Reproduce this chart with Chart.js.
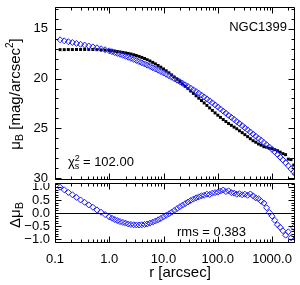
<!DOCTYPE html>
<html>
<head>
<meta charset="utf-8">
<script src="https://cdn.jsdelivr.net/npm/chart.js@4"></script>
<style>
  html, body { margin: 0; padding: 0; background: #fff; }
  #wrap { position: relative; width: 300px; height: 285px; }
  #wrap canvas { position: absolute; left: 0; }
  #profileChart { top: 0; }
  #residChart { top: 183px; }
</style>
</head>
<body>
<div id="wrap">
  <canvas id="profileChart" width="300" height="183"></canvas>
  <canvas id="residChart" width="300" height="102"></canvas>
</div>
<script>
/* =========================
   DATA
========================= */
const radius = [
  0.124, 0.148, 0.176, 0.209, 0.249, 0.296, 0.352, 0.419, 0.499, 0.593, 0.706, 0.84, 1.0,
  1.12, 1.26, 1.41, 1.58, 1.78, 2.0, 2.24, 2.51, 2.82, 3.16, 3.55, 3.98, 4.47, 5.01, 5.62, 6.31, 7.08, 7.94, 8.91, 10.0,
  11.2, 12.6, 14.1, 15.8, 17.8, 20, 22.4, 25.1, 28.2, 31.6, 35.5, 39.8, 44.7, 50.1, 56.2, 63.1, 70.8, 79.4, 89.1, 100,
  112, 126, 141, 158, 178, 200, 224, 251, 282, 316, 355, 398, 447, 501, 562, 631, 708, 794, 891, 1000,
  1122, 1259, 1413, 1585, 1778, 1995, 2239, 2512, 2700
];

// model profile (blue diamonds)
const muModel = [
  16.10, 16.20, 16.29, 16.37, 16.46, 16.55, 16.63, 16.72, 16.81, 16.90, 17.00, 17.10, 17.21,
  17.29, 17.38, 17.47, 17.56, 17.66, 17.76, 17.86, 17.96, 18.07, 18.18, 18.29, 18.41, 18.53, 18.65, 18.77, 18.90, 19.03, 19.16, 19.29, 19.43,
  19.57, 19.71, 19.86, 20.01, 20.16, 20.31, 20.47, 20.63, 20.79, 20.96, 21.13, 21.30, 21.48, 21.66, 21.85, 22.04, 22.24, 22.44, 22.64, 22.85,
  23.06, 23.27, 23.48, 23.69, 23.90, 24.11, 24.32, 24.53, 24.74, 24.95, 25.16, 25.37, 25.58, 25.79, 26.00, 26.21, 26.43, 26.65, 26.88, 27.12,
  27.37, 27.63, 27.90, 28.18, 28.47, 28.77, 29.08, 29.40, 29.60
];

// observed profile (black squares)
const muObs = [
  17.09, 17.09, 17.08, 17.08, 17.07, 17.07, 17.07, 17.07, 17.08, 17.09, 17.11, 17.14, 17.17,
  17.20, 17.24, 17.28, 17.32, 17.37, 17.42, 17.47, 17.53, 17.60, 17.68, 17.77, 17.87, 17.98, 18.10, 18.23, 18.37, 18.52, 18.68, 18.85, 19.03,
  19.22, 19.42, 19.63, 19.85, 20.07, 20.30, 20.53, 20.77, 21.01, 21.25, 21.49, 21.73, 21.97, 22.21, 22.45, 22.70, 22.95, 23.20, 23.45, 23.68,
  23.90, 24.12, 24.32, 24.52, 24.70, 24.88, 25.05, 25.25, 25.44, 25.64, 25.84, 26.05, 26.25, 26.40, 26.58, 26.70, 26.85, 26.90, 27.00, 27.05,
  27.15, 27.25, 27.40, 27.55, 27.65, 28.10, 28.15, 28.70, 28.65
];

// residuals (blue diamonds, lower panel)
const deltaMu = [
  0.99, 0.89, 0.79, 0.70, 0.60, 0.50, 0.41, 0.31, 0.22, 0.12, 0.03, -0.06, -0.15,
  -0.20, -0.25, -0.29, -0.33, -0.36, -0.39, -0.42, -0.44, -0.45, -0.46, -0.46, -0.45, -0.44, -0.42, -0.39, -0.35, -0.31, -0.26, -0.21, -0.15,
  -0.09, -0.03, 0.03, 0.10, 0.17, 0.24, 0.30, 0.36, 0.42, 0.48, 0.53, 0.58, 0.62, 0.66, 0.68, 0.72, 0.71, 0.76, 0.78, 0.80,
  0.84, 0.88, 0.82, 0.85, 0.78, 0.76, 0.72, 0.74, 0.70, 0.72, 0.68, 0.73, 0.66, 0.58, 0.55, 0.45, 0.38, 0.20, 0.02, -0.12,
  -0.28, -0.45, -0.55, -0.68, -0.85, -0.72, -0.95, -0.55, -0.98
];

const xTicks = [0.1, 1, 10, 100, 1000];
const yTicksTop = [15, 20, 25, 30];
const yTicksBottom = [-1.0, -0.5, 0.0, 0.5, 1.0];

const BLUE = "rgb(25,25,255)";
const FONT = "'Liberation Sans', Arial, sans-serif";

Chart.defaults.font.family = FONT;
Chart.defaults.font.size = 13;
Chart.defaults.color = "#000";

/* =========================
   HELPERS
========================= */
function toPoints(ys) {
  return radius.map((r, i) => ({ x: r, y: ys[i] }));
}

// no label overflow padding, fixed box size
function fixBox(size) {
  return function (s) {
    if (s.isHorizontal()) s.height = size; else s.width = size;
    s.paddingTop = 0; s.paddingBottom = 0;
    s.paddingLeft = 0; s.paddingRight = 0;
  };
}

// place the canvas so its plot area starts where the reference has it
function alignTop(chart, wantTop) {
  const off = chart.chartArea.top;
  chart.canvas.style.top = (wantTop - off) + "px";
}

// draw text pieces with sub/superscripts; rotated text is centred on (x, y)
function drawRich(ctx, parts, x, y, rotate) {
  ctx.save();
  ctx.translate(x, y);
  if (rotate) ctx.rotate(-Math.PI / 2);
  let total = 0;
  parts.forEach(p => {
    ctx.font = `${p.size}px ${FONT}`;
    p.w = p.noAdvance ? 0 : ctx.measureText(p.t).width;
    total += p.w;
  });
  let cx = rotate ? -total / 2 : 0;
  ctx.fillStyle = "#000";
  ctx.textBaseline = "alphabetic";
  ctx.textAlign = "left";
  parts.forEach(p => {
    ctx.font = `${p.size}px ${FONT}`;
    ctx.fillText(p.t, cx, p.dy || 0);
    cx += p.w;
  });
  ctx.restore();
}

// frame + inward ticks on all four sides (IDL style)
function framePlugin(yMajor, yMinorStep, yMinorFrom, yMinorTo) {
  return {
    id: "frame",
    afterDraw(chart) {
      const { ctx, chartArea: a, scales } = chart;
      const x = scales.x, y = scales.y;
      const L = Math.round(a.left) + 0.5, R = Math.round(a.right) - 0.5;
      const T = Math.round(a.top) + 0.5, B = Math.round(a.bottom) - 0.5;
      ctx.save();
      ctx.strokeStyle = "#000";
      ctx.lineWidth = 1;
      ctx.beginPath();
      ctx.rect(L, T, R - L, B - T);

      // x ticks (log)
      xTicks.forEach(d => {
        for (let m = 1; m <= 9; m++) {
          const v = m * d;
          if (v < x.min || v > x.max) continue;
          const px = Math.round(x.getPixelForValue(v)) + 0.5;
          const len = m === 1 ? 6 : 3;
          ctx.moveTo(px, T); ctx.lineTo(px, T + len);
          ctx.moveTo(px, B); ctx.lineTo(px, B - len);
        }
      });

      // y minor ticks
      for (let v = yMinorFrom; v <= yMinorTo + 1e-6; v += yMinorStep) {
        const py = Math.round(y.getPixelForValue(v)) + 0.5;
        if (py < T || py > B) continue;
        ctx.moveTo(L, py); ctx.lineTo(L + 3, py);
        ctx.moveTo(R, py); ctx.lineTo(R - 3, py);
      }
      // y major ticks
      yMajor.forEach(v => {
        const py = Math.round(y.getPixelForValue(v)) + 0.5;
        ctx.moveTo(L, py); ctx.lineTo(L + 6, py);
        ctx.moveTo(R, py); ctx.lineTo(R - 6, py);
      });
      ctx.stroke();
      ctx.restore();
    }
  };
}

/* =========================
   TOP PANEL: SURFACE BRIGHTNESS
========================= */
const profile = new Chart(document.getElementById("profileChart"), {
  type: "scatter",
  data: {
    datasets: [
      {
        label: "model",
        data: toPoints(muModel),
        pointStyle: "rectRot",
        pointRadius: 3,
        borderWidth: 1,
        borderColor: BLUE,
        backgroundColor: "rgba(0,0,0,0)"
      },
      {
        label: "observed",
        data: toPoints(muObs),
        pointStyle: "rect",
        pointRadius: 2.1,
        borderWidth: 0,
        borderColor: "#000",
        backgroundColor: "#000"
      }
    ]
  },
  options: {
    responsive: false,
    animation: false,
    devicePixelRatio: 1,
    layout: { autoPadding: false, padding: { top: 7, right: 5, bottom: 3, left: 0 } },
    plugins: { legend: { display: false }, tooltip: { enabled: false } },
    scales: {
      x: { type: "logarithmic", min: 0.1, max: 2650, display: false },
      y: {
        reverse: true,
        min: 12.8,
        max: 30.2,
        afterFit: fixBox(55),
        afterBuildTicks(s) { s.ticks = yTicksTop.map(v => ({ value: v })); },
        ticks: { padding: 7, autoSkip: false, callback: v => String(v) },
        grid: { display: false, drawTicks: false },
        border: { display: false }
      }
    }
  },
  plugins: [
    framePlugin(yTicksTop, 1, 13, 30),
    {
      id: "labelsTop",
      afterDraw(chart) {
        const ctx = chart.ctx;
        const t = chart.chartArea.top - 7;
        drawRich(ctx, [
          { t: "μ", size: 15 }, { t: "B", size: 11, dy: 3 },
          { t: " [mag/arcsec", size: 15 }, { t: "2", size: 10, dy: -7 }, { t: "]", size: 15 }
        ], 20, t + 94, true);
        drawRich(ctx, [
          { t: "χ", size: 13 }, { t: "2", size: 9, dy: -5, noAdvance: true },
          { t: "s", size: 9, dy: 3 }, { t: " = 102.00", size: 13 }
        ], 68, t + 166, false);
        ctx.save();
        ctx.font = `13px ${FONT}`;
        ctx.fillStyle = "#000";
        ctx.textAlign = "right";
        ctx.fillText("NGC1399", 287, t + 31);
        ctx.restore();
      }
    }
  ]
});
alignTop(profile, 7);

/* =========================
   BOTTOM PANEL: RESIDUALS
========================= */
const resid = new Chart(document.getElementById("residChart"), {
  type: "scatter",
  data: {
    datasets: [{
      label: "residual",
      data: toPoints(deltaMu),
      pointStyle: "rectRot",
      pointRadius: 3,
      borderWidth: 1,
      borderColor: BLUE,
      backgroundColor: "rgba(0,0,0,0)"
    }]
  },
  options: {
    responsive: false,
    animation: false,
    devicePixelRatio: 1,
    layout: { autoPadding: false, padding: { top: 0, right: 5, bottom: 0, left: 0 } },
    plugins: { legend: { display: false }, tooltip: { enabled: false } },
    scales: {
      x: {
        type: "logarithmic",
        min: 0.1,
        max: 2650,
        afterFit: fixBox(42),
        afterBuildTicks(s) { s.ticks = xTicks.map(v => ({ value: v })); },
        ticks: { padding: 9, maxRotation: 0, autoSkip: false, callback: v => Number(v).toFixed(1) },
        grid: { display: false, drawTicks: false },
        border: { display: false }
      },
      y: {
        min: -1.15,
        max: 1.15,
        afterFit: fixBox(55),
        afterBuildTicks(s) { s.ticks = yTicksBottom.map(v => ({ value: v })); },
        ticks: { padding: 5, autoSkip: false, callback: v => (v < 0 ? "\u2212" : "") + Math.abs(v).toFixed(1) },
        grid: { display: false, drawTicks: false },
        border: { display: false }
      }
    }
  },
  plugins: [
    framePlugin(yTicksBottom, 0.1, -1.1, 1.1),
    {
      id: "labelsBottom",
      beforeDatasetsDraw(chart) {
        const { ctx, chartArea: a, scales } = chart;
        const py = Math.round(scales.y.getPixelForValue(0)) + 0.5;
        ctx.save();
        ctx.strokeStyle = "#000";
        ctx.lineWidth = 1;
        ctx.beginPath();
        ctx.moveTo(a.left, py); ctx.lineTo(a.right, py);
        ctx.stroke();
        ctx.restore();
      },
      afterDraw(chart) {
        const ctx = chart.ctx;
        const t = chart.chartArea.top;
        drawRich(ctx, [{ t: "Δμ", size: 15 }, { t: "B", size: 11, dy: 3 }], 20, t + 32, true);
        ctx.save();
        ctx.fillStyle = "#000";
        ctx.font = `13px ${FONT}`;
        ctx.fillText("rms = 0.383", 177, t + 53);
        ctx.font = `15px ${FONT}`;
        ctx.textAlign = "center";
        ctx.fillText("r [arcsec]", 180, t + 94);
        ctx.restore();
      }
    }
  ]
});
alignTop(resid, 183);
</script>
</body>
</html>
